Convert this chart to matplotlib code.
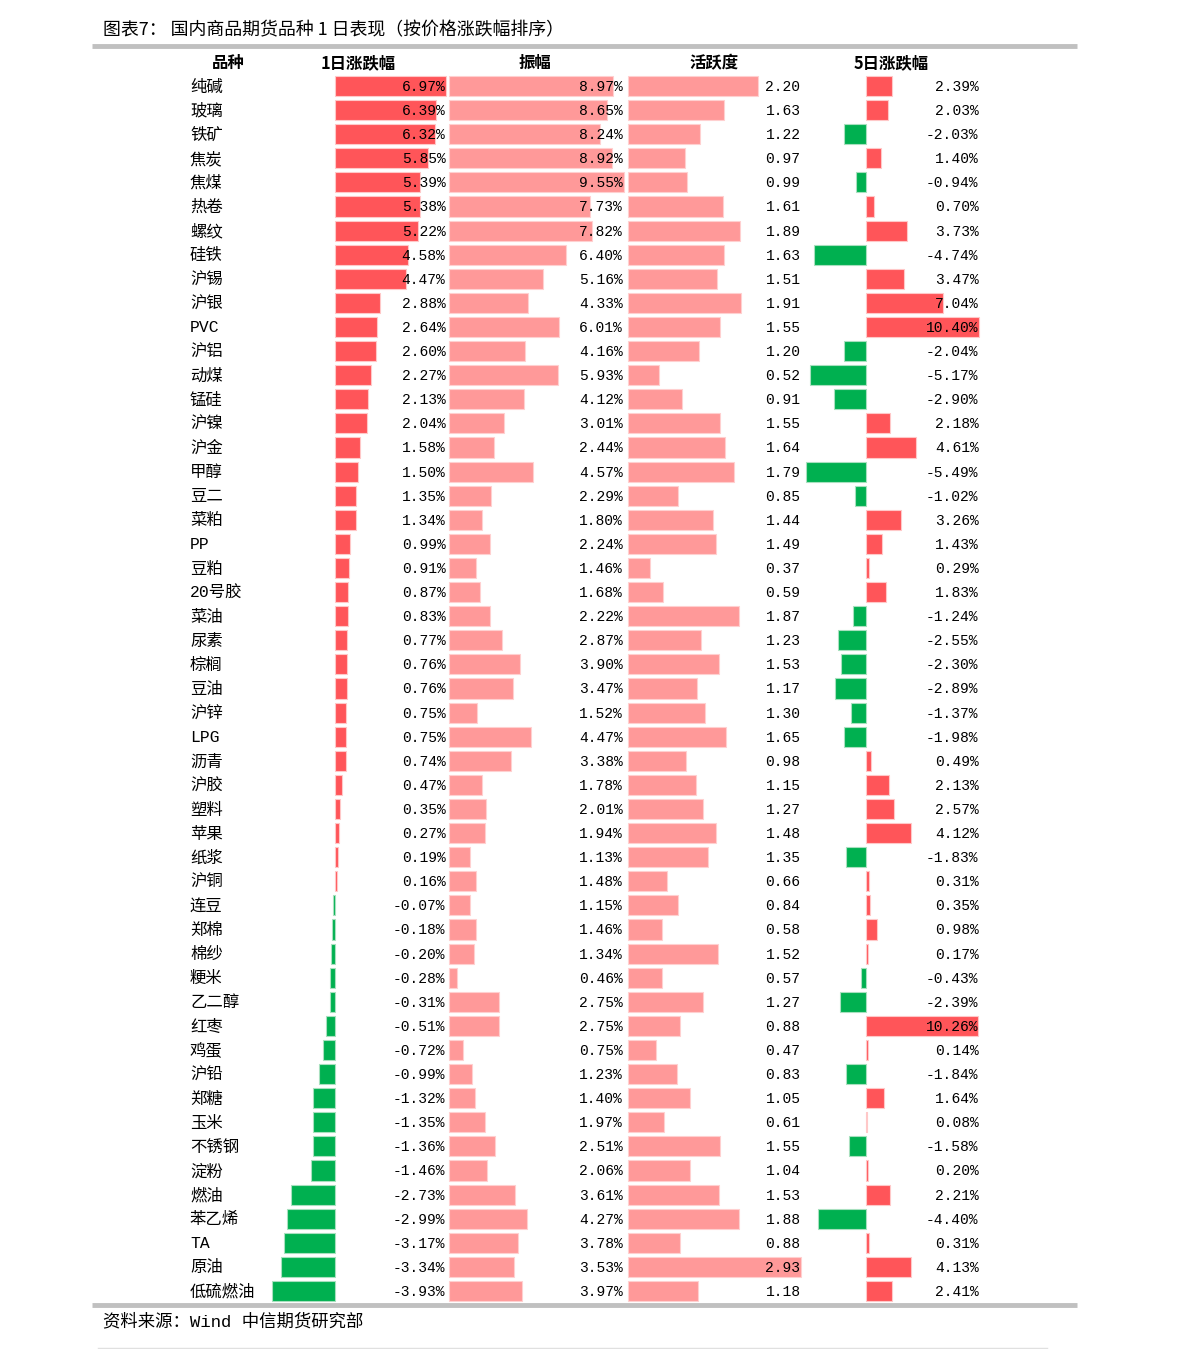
import matplotlib
matplotlib.use("Agg")
import matplotlib.pyplot as plt

names = ["纯碱", "玻璃", "铁矿", "焦炭", "焦煤", "热卷", "螺纹", "硅铁", "沪锡", "沪银",
         "PVC", "沪铝", "动煤", "锰硅", "沪镍", "沪金", "甲醇", "豆二", "菜粕", "PP",
         "豆粕", "20号胶", "菜油", "尿素", "棕榈", "豆油", "沪锌", "LPG", "沥青", "沪胶",
         "塑料", "苹果", "纸浆", "沪铜", "连豆", "郑棉", "棉纱", "粳米", "乙二醇", "红枣",
         "鸡蛋", "沪铅", "郑糖", "玉米", "不锈钢", "淀粉", "燃油", "苯乙烯", "TA", "原油",
         "低硫燃油"]
chg_1d = [6.97, 6.39, 6.32, 5.85, 5.39, 5.38, 5.22, 4.58, 4.47, 2.88,
          2.64, 2.60, 2.27, 2.13, 2.04, 1.58, 1.50, 1.35, 1.34, 0.99,
          0.91, 0.87, 0.83, 0.77, 0.76, 0.76, 0.75, 0.75, 0.74, 0.47,
          0.35, 0.27, 0.19, 0.16, -0.07, -0.18, -0.20, -0.28, -0.31, -0.51,
          -0.72, -0.99, -1.32, -1.35, -1.36, -1.46, -2.73, -2.99, -3.17, -3.34,
          -3.93]
amplitude = [8.97, 8.65, 8.24, 8.92, 9.55, 7.73, 7.82, 6.40, 5.16, 4.33,
             6.01, 4.16, 5.93, 4.12, 3.01, 2.44, 4.57, 2.29, 1.80, 2.24,
             1.46, 1.68, 2.22, 2.87, 3.90, 3.47, 1.52, 4.47, 3.38, 1.78,
             2.01, 1.94, 1.13, 1.48, 1.15, 1.46, 1.34, 0.46, 2.75, 2.75,
             0.75, 1.23, 1.40, 1.97, 2.51, 2.06, 3.61, 4.27, 3.78, 3.53,
             3.97]
activity = [2.20, 1.63, 1.22, 0.97, 0.99, 1.61, 1.89, 1.63, 1.51, 1.91,
            1.55, 1.20, 0.52, 0.91, 1.55, 1.64, 1.79, 0.85, 1.44, 1.49,
            0.37, 0.59, 1.87, 1.23, 1.53, 1.17, 1.30, 1.65, 0.98, 1.15,
            1.27, 1.48, 1.35, 0.66, 0.84, 0.58, 1.52, 0.57, 1.27, 0.88,
            0.47, 0.83, 1.05, 0.61, 1.55, 1.04, 1.53, 1.88, 0.88, 2.93,
            1.18]
chg_5d = [2.39, 2.03, -2.03, 1.40, -0.94, 0.70, 3.73, -4.74, 3.47, 7.04,
          10.40, -2.04, -5.17, -2.90, 2.18, 4.61, -5.49, -1.02, 3.26, 1.43,
          0.29, 1.83, -1.24, -2.55, -2.30, -2.89, -1.37, -1.98, 0.49, 2.13,
          2.57, 4.12, -1.83, 0.31, 0.35, 0.98, 0.17, -0.43, -2.39, 10.26,
          0.14, -1.84, 1.64, 0.08, -1.58, 0.20, 2.21, -4.40, 0.31, 4.13,
          2.41]
headers = ["品种", "1日涨跌幅", "振幅", "活跃度", "5日涨跌幅"]

RED = "#ff5559"
PINK = "#ff9999"
GREEN = "#00b050"
CJK = ["Noto Sans CJK SC", "DejaVu Sans"]
MONO = ["Liberation Mono", "Noto Sans CJK SC"]

W, H = 1191, 1349
n = len(names)
row0, step = 86, 24.1
top_px = row0 - step / 2
bot_px = row0 + step * (n - 1) + step / 2

fig = plt.figure(figsize=(W / 100, H / 100), dpi=100)

# overlay for title, lines, headers and names (pixel coords)
bg = fig.add_axes([0, 0, 1, 1])
bg.set_xlim(0, W)
bg.set_ylim(H, 0)
bg.axis("off")

bg.text(103, 30, "图表7： 国内商品期货品种 1 日表现（按价格涨跌幅排序）",
        fontsize=12.9, family=CJK, ha="left", va="center")
bg.plot([92, 1077], [46, 46], color="#c0c0c0", lw=3.5, solid_capstyle="butt")
bg.plot([92, 1077], [1305, 1305], color="#c0c0c0", lw=3.5, solid_capstyle="butt")
bg.plot([98, 1047], [1348, 1348], color="#e0e0e0", lw=1)
bg.text(103, 1321, "资料来源：Wind 中信期货研究部", fontsize=12.5, family=MONO,
        ha="left", va="center")

header_x = [228, 358, 535, 714, 891]
for hx, h in zip(header_x, headers):
    bg.text(hx, 63, h, fontsize=11.8, family=CJK, fontweight="bold",
            ha="center", va="center")

for i, nm in enumerate(names):
    bg.text(190, row0 + 1 + step * i, nm, fontsize=11.8, family=MONO,
            ha="left", va="center")


def col_axes(left_px, right_px, zero_px, scale):
    ax = fig.add_axes([left_px / W, 1 - bot_px / H,
                       (right_px - left_px) / W, (bot_px - top_px) / H])
    ax.set_xlim((left_px - zero_px) / scale, (right_px - zero_px) / scale)
    ax.set_ylim(n - 0.5, -0.5)
    ax.axis("off")
    return ax


def draw_column(ax, vals, colors, edge, label_px, zero_px, scale, fmt):
    rows = range(len(vals))
    ax.barh(rows, vals, height=0.83, color=colors, edgecolor=edge, linewidth=0.8)
    lx = (label_px - zero_px) / scale
    for i, v in enumerate(vals):
        ax.text(lx, i + 0.04, fmt.format(v), fontsize=10.5, family=MONO,
                ha="right", va="center", zorder=5)


# 1日涨跌幅
ax1 = col_axes(255, 452, 334.5, 15.95)
c1 = [RED if v >= 0 else GREEN for v in chg_1d]
e1 = ["#ffc8c8" if v >= 0 else "#a8e0bf" for v in chg_1d]
draw_column(ax1, chg_1d, c1, e1, 445.5, 334.5, 15.95, "{:.2f}%")

# 振幅
ax2 = col_axes(447, 627, 449, 18.3)
draw_column(ax2, amplitude, PINK, "#ffd0d0", 623, 449, 18.3, "{:.2f}%")

# 活跃度
ax3 = col_axes(626, 804, 628, 59.2)
draw_column(ax3, activity, PINK, "#ffd0d0", 800.5, 628, 59.2, "{:.2f}")

# 5日涨跌幅
ax4 = col_axes(800, 982, 866, 10.88)
c4 = [RED if v >= 0 else GREEN for v in chg_5d]
e4 = ["#ffc8c8" if v >= 0 else "#a8e0bf" for v in chg_5d]
draw_column(ax4, chg_5d, c4, e4, 978.5, 866, 10.88, "{:.2f}%")

fig.savefig("out.png", dpi=100)
